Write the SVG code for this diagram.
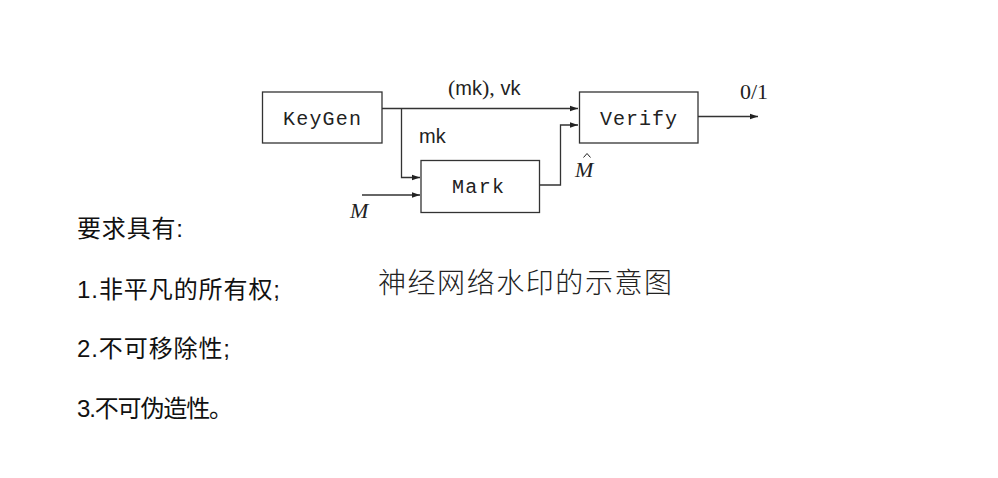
<svg xmlns="http://www.w3.org/2000/svg" width="998" height="478" viewBox="0 0 998 478">
<style>
.box{fill:#fff;stroke:#333;stroke-width:1.3}
.ln{fill:none;stroke:#333;stroke-width:1.3}
.tt{font-family:"Liberation Mono",monospace;font-size:20px;fill:#222}
.ss{font-family:"Liberation Sans",sans-serif;font-size:20px;fill:#222}
.mi{font-family:"Liberation Serif",serif;font-style:italic;font-size:22px;fill:#222}
.rm{font-family:"Liberation Serif",serif;font-size:22px;fill:#222}
.cn{font-family:"Liberation Sans","Noto Sans CJK SC",sans-serif;font-size:24px;fill:#111}
.cap{font-family:"Noto Sans CJK SC",sans-serif;font-weight:300;font-size:28px;fill:#222}
</style>
<defs>
<marker id="ah" viewBox="0 0 10 10" refX="10" refY="5" markerWidth="8" markerHeight="8" markerUnits="userSpaceOnUse" orient="auto">
<path d="M0,1.5 L10,5 L0,8.5 Z" fill="#222"/>
</marker>
</defs>
<rect width="998" height="478" fill="#fff"/>
<g id="connectors">
<path class="ln" d="M382,108.5 H578" marker-end="url(#ah)"/>
<path class="ln" d="M401.5,108.5 V177.5 H420" marker-end="url(#ah)"/>
<path class="ln" d="M362,195 H420" marker-end="url(#ah)"/>
<path class="ln" d="M539,185 H560.5 V125 H578" marker-end="url(#ah)"/>
<path class="ln" d="M698,116.5 H758" marker-end="url(#ah)"/>
</g>
<g id="keygen">
<rect class="box" x="262.5" y="92" width="119.5" height="51"/>
<text class="tt" x="322" y="125" text-anchor="middle" textLength="78">KeyGen</text>
</g>
<g id="mark">
<rect class="box" x="421" y="160.5" width="118.5" height="52"/>
<text class="tt" x="478" y="193" text-anchor="middle" textLength="52">Mark</text>
</g>
<g id="verify">
<rect class="box" x="579.5" y="92" width="118.5" height="51"/>
<text class="tt" x="638.5" y="125" text-anchor="middle" textLength="77">Verify</text>
</g>
<g id="labels">
<text x="448" y="95"><tspan class="rm" font-size="21">(</tspan><tspan class="ss">mk</tspan><tspan class="rm" font-size="21">),</tspan><tspan class="ss"> vk</tspan></text>
<text class="ss" x="419" y="143">mk</text>
<text class="mi" x="350" y="218">M</text>
<text class="mi" x="575" y="177" font-size="21">M</text>
<polyline points="583.5,157.5 587,153.5 590.5,157.5" fill="none" stroke="#222" stroke-width="1"/>
<text class="rm" x="740" y="99" font-size="24">0/1</text>
</g>
<g id="requirements">
<text class="cn" x="77" y="237" textLength="106">要求具有:</text>
<text class="cn" x="77" y="298" textLength="203">1.非平凡的所有权;</text>
<text class="cn" x="77" y="357" textLength="153">2.不可移除性;</text>
<text class="cn" x="77" y="417" textLength="156">3.不可伪造性。</text>
</g>
<text class="cap" x="378" y="293" textLength="294">神经网络水印的示意图</text>
</svg>
